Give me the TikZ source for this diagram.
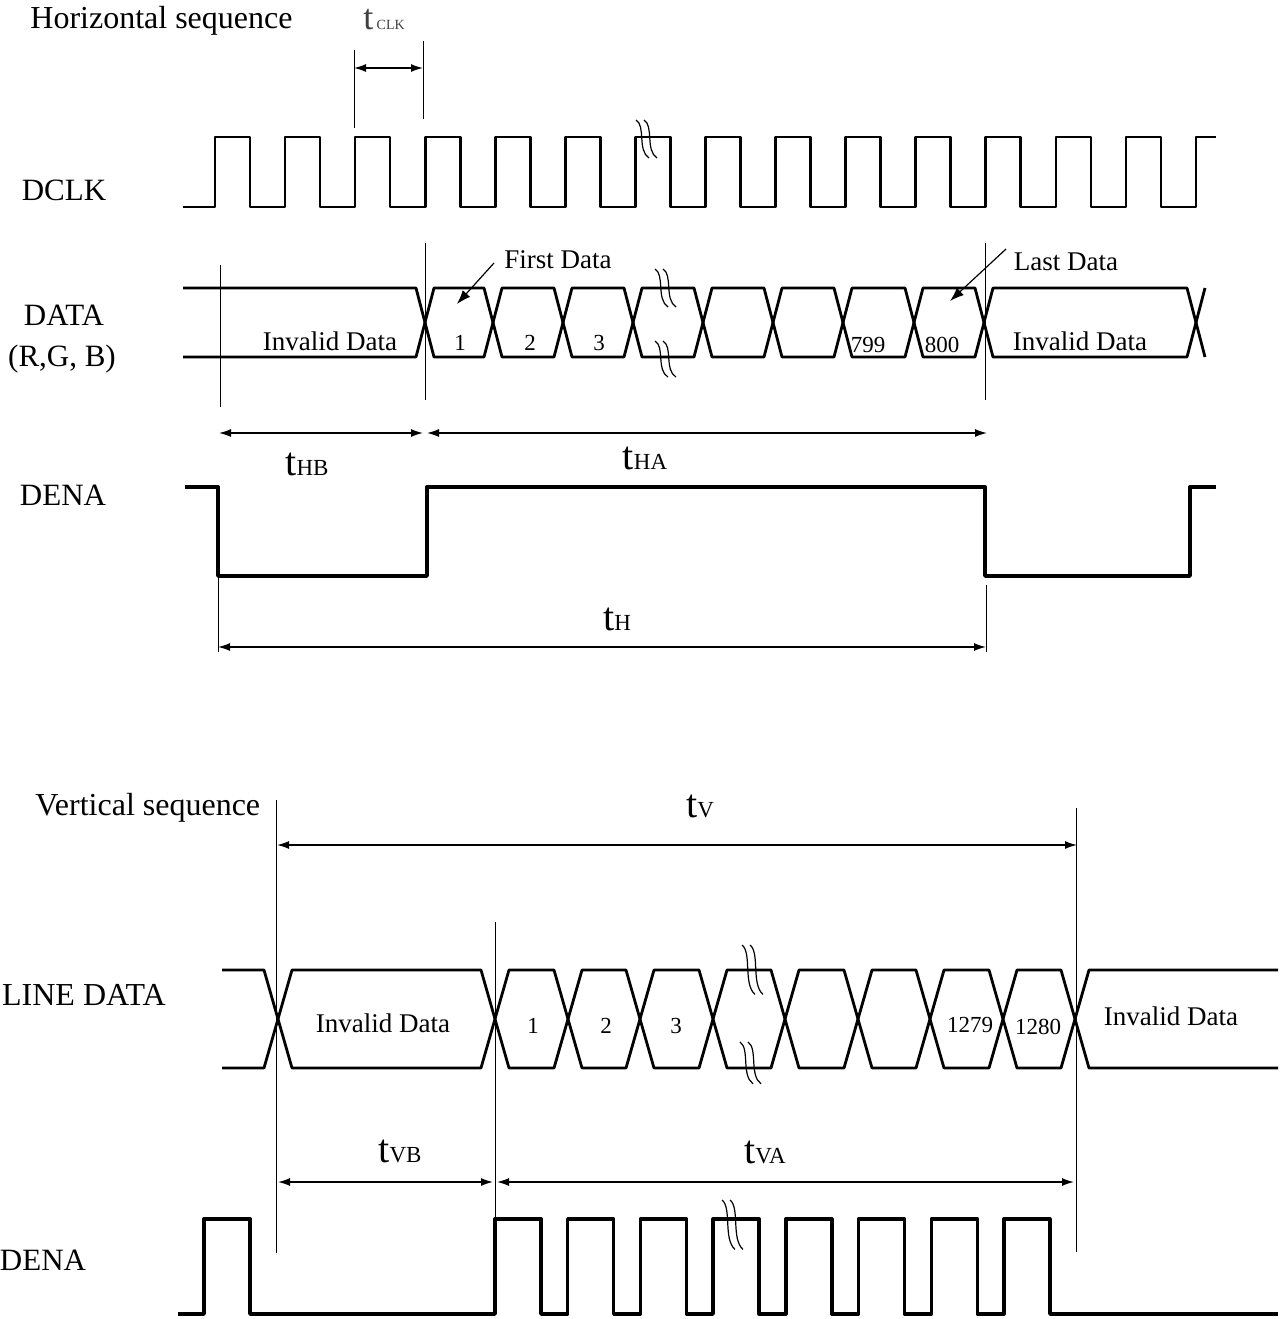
\documentclass[tikz,border=0pt]{standalone}
\usepackage{fontspec}
\setmainfont{Liberation Serif}
\usetikzlibrary{arrows.meta}
\newcommand\tsubl[1]{t{\fontsize{11.5pt}{12pt}\selectfont #1}}
\tikzset{
  clk/.style={line width=1.3pt, line join=round},
  bus/.style={line width=1.4pt, line join=round},
  enable/.style={line width=1.7pt, line join=round},
  tickline/.style={line width=0.5pt},
  dim/.style={line width=0.7pt, {Latex[length=6pt,width=4pt]}-{Latex[length=6pt,width=4pt]}},
  pointer/.style={line width=0.6pt, -{Latex[length=7pt,width=5pt]}},
  signame/.style={font=\fontsize{15.5pt}{18pt}\selectfont, inner sep=0pt, anchor=base},
  titletext/.style={font=\fontsize{16pt}{19pt}\selectfont, inner sep=0pt, anchor=base west},
  dattext/.style={font=\fontsize{13.5pt}{16pt}\selectfont, inner sep=0pt, anchor=base},
  numtext/.style={font=\fontsize{11.5pt}{14pt}\selectfont, inner sep=0pt, anchor=base},
  tlabel/.style={font=\fontsize{20pt}{22pt}\selectfont, inner sep=0pt, anchor=base},
  brkmark/.pic={
    \draw[line width=0.6pt] (0,0) .. controls (10,6) and (1,30) .. (13,38);
    \draw[line width=0.6pt] (8,0) .. controls (18,6) and (9,30) .. (21,38);
  }
}
\begin{document}
\begin{tikzpicture}[x=0.5pt,y=-0.5pt]
\useasboundingbox (0,0) rectangle (1282,1319);

% ================= Horizontal sequence =================
\node[titletext] (hseq) at (30,28) {Horizontal sequence};

% tCLK
\coordinate (ckAt) at (354,50);  \coordinate (ckAb) at (354,128);
\coordinate (ckBt) at (423,41);  \coordinate (ckBb) at (423,119);
\coordinate (ckA) at (354,68);   \coordinate (ckB) at (423,68);
\draw[tickline] (ckAt) -- (ckAb);
\draw[tickline] (ckBt) -- (ckBb);
\draw[dim] (ckA) -- (ckB);
\node[anchor=base, inner sep=0pt, text=black!75] (tclk) at (384,29)
  {{\fontsize{18pt}{19pt}\selectfont t}\,{\fontsize{7pt}{8pt}\selectfont CLK}};

% DCLK
\node[signame] (dclk) at (64,200) {DCLK};
\draw[clk] (183,207) foreach \k in {0,...,13}{
    -- ({215+70.07*\k},207) |- ({250+70.07*\k},137) -- ({250+70.07*\k},207) }
  -- (1196,207) -- (1196,137) -- (1216,137);
\pic at (636,120) {brkmark};

% DATA
\node[signame] (data) at (64,325) {DATA};
\node[signame] (rgb) at (62,366) {(R,G, B)};
\draw[bus] (183,288) -- (416,288) -- (425,322.5) -- (416,357) -- (183,357);
\foreach \a/\b in {425/493,493/563,563/633,633/703,703/773,773/843,843/914,914/984,984/1196}{
  \draw[bus] (\a,322.5) -- (\a+9,288) -- (\b-9,288) -- (\b,322.5) -- (\b-9,357) -- (\a+9,357) -- cycle;
}
\draw[bus] (1205,288) -- (1196,322.5) -- (1205,357);
\pic at (655,269) {brkmark};
\pic[yscale=0.95] at (655,341) {brkmark};

\node[dattext] (inv1) at (330,350) {Invalid Data};
\node[numtext] (d1) at (460,350) {1};
\node[numtext] (d2) at (530,350) {2};
\node[numtext] (d3) at (599,350) {3};
\node[numtext] (d799) at (868,352) {799};
\node[numtext] (d800) at (942,352) {800};
\node[dattext] (inv2) at (1080,350) {Invalid Data};

\node[dattext] (first) at (558,268) {First Data};
\node[dattext] (last) at (1066,270) {Last Data};
\coordinate (firstS) at (494,263); \coordinate (firstE) at (457,304);
\coordinate (lastS) at (1006,249); \coordinate (lastE) at (950,301);
\draw[pointer] (firstS) -- (firstE);
\draw[pointer] (lastS) -- (lastE);

% markers
\coordinate (hbT) at (220,265); \coordinate (hbB) at (220,407);
\coordinate (haT) at (425,243); \coordinate (haB) at (425,400);
\coordinate (heT) at (985,243); \coordinate (heB) at (985,400);
\draw[tickline] (hbT) -- (hbB);
\draw[tickline] (haT) -- (haB);
\draw[tickline] (heT) -- (heB);
\coordinate (thb1) at (219,433); \coordinate (thb2) at (423,433);
\coordinate (tha1) at (427,433); \coordinate (tha2) at (987,433);
\draw[dim] (thb1) -- (thb2);
\draw[dim] (tha1) -- (tha2);
\node[tlabel] (lthb) at (307,475) {\tsubl{HB}};
\node[tlabel] (ltha) at (645,469) {\tsubl{HA}};

% DENA (horizontal)
\node[signame] (dena1) at (63,505) {DENA};
\draw[enable] (185,487) -- (218,487) -- (218,576) -- (427,576) -- (427,487)
  -- (985,487) -- (985,576) -- (1190,576) -- (1190,487) -- (1216,487);

\coordinate (thL) at (218,576); \coordinate (thLb) at (218,652);
\coordinate (thR) at (986,585); \coordinate (thRb) at (986,652);
\draw[tickline] (thL) -- (thLb);
\draw[tickline] (thR) -- (thRb);
\coordinate (th1) at (218,647); \coordinate (th2) at (986,647);
\draw[dim] (th1) -- (th2);
\node[tlabel] (lth) at (617,630) {\tsubl{H}};

% ================= Vertical sequence =================
\node[titletext] (vseq) at (35,815) {Vertical sequence};

\coordinate (v1T) at (276,800);  \coordinate (v1B) at (276,1253);
\coordinate (v2T) at (1076,808); \coordinate (v2B) at (1076,1252);
\coordinate (v3T) at (495,922);  \coordinate (v3B) at (495,1219);
\draw[tickline] (v1T) -- (v1B);
\draw[tickline] (v2T) -- (v2B);
\draw[tickline] (v3T) -- (v3B);
\coordinate (tv1) at (277,845); \coordinate (tv2) at (1077,845);
\draw[dim] (tv1) -- (tv2);
\node[tlabel] (ltv) at (700,817) {\tsubl{V}};

% LINE DATA
\node[signame, font=\fontsize{16pt}{19pt}\selectfont] (linedata) at (84,1005) {LINE DATA};
\draw[bus] (222,970) -- (264,970) -- (278,1019) -- (264,1068) -- (222,1068);
\foreach \a/\b in {278/495,495/568,568/640,640/713,713/785,785/858,858/930,930/1003,1003/1075}{
  \draw[bus] (\a,1019) -- (\a+14,970) -- (\b-14,970) -- (\b,1019) -- (\b-14,1068) -- (\a+14,1068) -- cycle;
}
\draw[bus] (1278,970) -- (1089,970) -- (1075,1019) -- (1089,1068) -- (1278,1068);
\pic[yscale=1.3] at (742,945) {brkmark};
\pic[yscale=1.1] at (740,1042) {brkmark};

\node[dattext] (linv1) at (383,1032) {Invalid Data};
\node[numtext] (l1) at (533,1033) {1};
\node[numtext] (l2) at (606,1033) {2};
\node[numtext] (l3) at (676,1033) {3};
\node[numtext] (l1279) at (970,1032) {1279};
\node[numtext] (l1280) at (1038,1034) {1280};
\node[dattext] (linv2) at (1171,1025) {Invalid Data};

\coordinate (tvb1) at (278,1182); \coordinate (tvb2) at (493,1182);
\coordinate (tva1) at (497,1182); \coordinate (tva2) at (1074,1182);
\draw[dim] (tvb1) -- (tvb2);
\draw[dim] (tva1) -- (tva2);
\node[tlabel] (ltvb) at (400,1162) {\tsubl{VB}};
\node[tlabel] (ltva) at (765,1163) {\tsubl{VA}};

% DENA (vertical)
\node[signame] (dena2) at (43,1270) {DENA};
\draw[enable] (178,1314) -- (204,1314) |- (250,1219) -- (250,1314) -- (495,1314)
  foreach \k in {0,...,7}{ -- ({495+72.7*\k},1314) |- ({541+72.7*\k},1219) -- ({541+72.7*\k},1314) }
  -- (1278,1314);
\pic[yscale=1.3] at (722,1200) {brkmark};

\end{tikzpicture}
\end{document}
